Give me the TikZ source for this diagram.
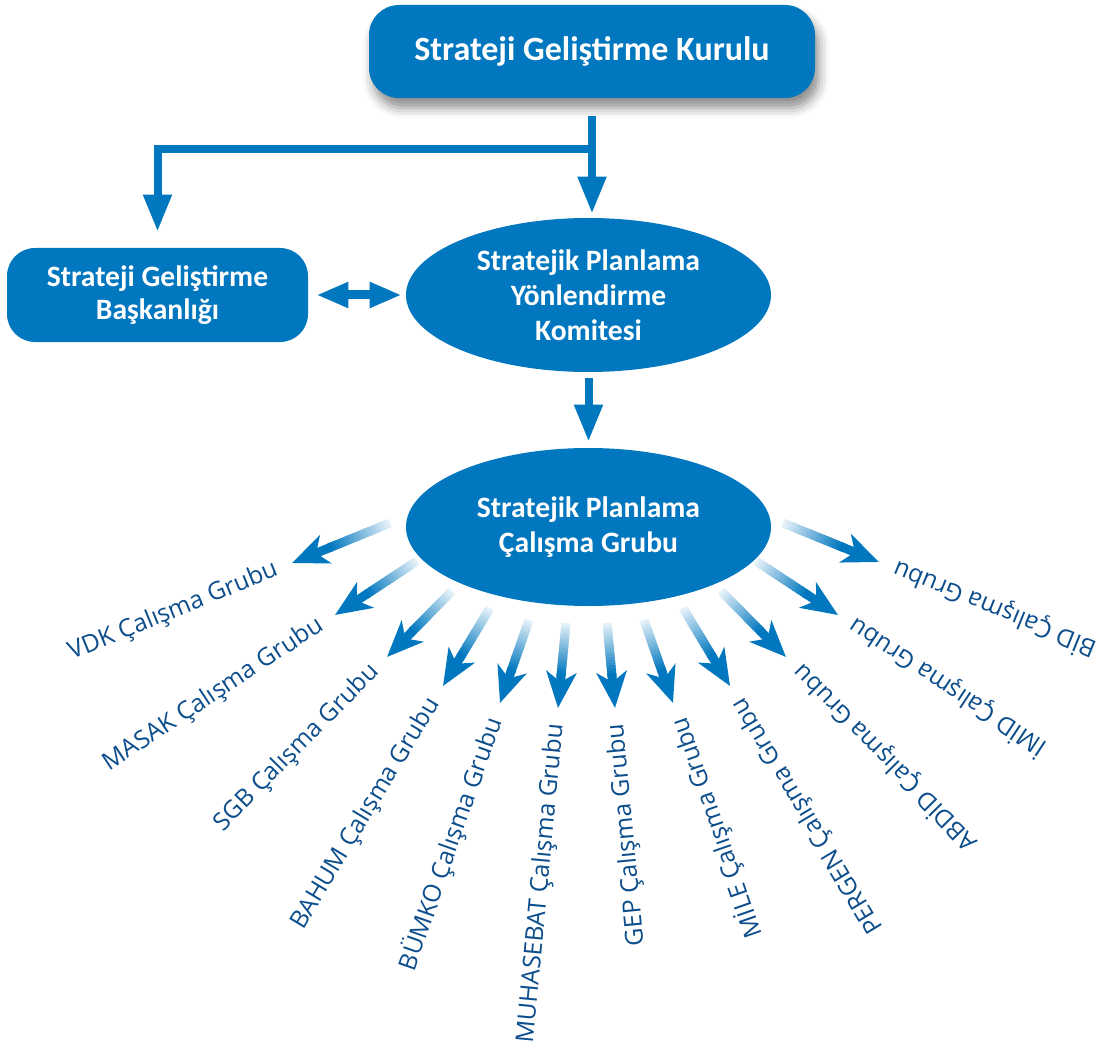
\documentclass[tikz,border=0pt]{standalone}
\usepackage{fontspec}
\setmainfont{Open Sans}
\newfontfamily\boxfont{Carlito}
\usetikzlibrary{arrows.meta,calc,shapes.geometric,shadows.blur}

\definecolor{kurumblue}{RGB}{0,119,190}
\definecolor{labelblue}{RGB}{12,77,140}

\begin{document}
\begin{tikzpicture}[x=0.5pt, y=-0.5pt,
    box/.style={fill=kurumblue, text=white, rounded corners=14pt, inner sep=0pt, align=center,
                font=\boxfont\bfseries\fontsize{14.8}{16.5}\selectfont},
    oval/.style={ellipse, fill=kurumblue, text=white, inner sep=0pt, align=center,
                 font=\boxfont\bfseries\fontsize{14.8}{17.5}\selectfont},
    conn/.style={kurumblue, line width=4pt, -{Triangle[length=18.5pt, width=13.5pt]}},
    fanshaft/.style={line width=4.5pt},
    grp/.style={text=labelblue, inner sep=0pt, font=\fontsize{12.3}{15}\selectfont}]
    \useasboundingbox (0,0) rectangle (1103,1064);

    \node[box, rounded corners=15pt, minimum width=223pt, minimum height=46.5pt,
          font=\boxfont\bfseries\fontsize{17}{20}\selectfont,
          blur shadow={shadow xshift=2pt, shadow yshift=-5pt, shadow blur radius=5pt, shadow opacity=45}]
          (kurul) at (592,51.5) {Strateji Geliştirme Kurulu};

    \node[box, minimum width=150.5pt, minimum height=47pt] (sgbas) at (157.5,295)
          {Strateji Geliştirme\\Başkanlığı};

    \node[oval, minimum width=182.5pt, minimum height=77pt] (spyk) at (588.5,295)
          {Stratejik Planlama\\Yönlendirme\\Komitesi};
    \node[oval, minimum width=182.5pt, minimum height=79pt] (spcg) at (588.5,527)
          {Stratejik Planlama\\Çalışma Grubu};

    \coordinate (split) at (kurul.south |- 0,149);

    \draw[conn, shorten <=9pt, shorten >=2pt] (kurul.south) -- (kurul.south |- spyk.north);
    \draw[conn, shorten >=8pt] (split) -| (sgbas.north);
    \draw[kurumblue, line width=4.5pt,
          {Triangle[length=16pt, width=12pt]}-{Triangle[length=16pt, width=12pt]},
          shorten <=4pt, shorten >=2pt] (sgbas.east) -- (spyk.west);
    \draw[conn, shorten <=3pt, shorten >=3pt] (spyk.south) -- (spcg.north);

    % working groups
    \foreach \sx/\sy/\tx/\ty/\grp [count=\i] in {
        390/523/292/563/VDK, 417/561/335/615/MASAK, 452/591/387/657/SGB,
        490/608/443/686/BAHUM, 529/620/500/703/BÜMKO, 566/623/558/708/MUHASEBAT,
        607/623/615/708/GEP, 644/620/673/703/MİLE, 683/608/730/686/PERGEN,
        721/591/786/657/ABDİD, 756/561/838/615/İMİD, 783/523/879/562/BİD}{
      \coordinate (s\i) at (\sx,\sy);
      \coordinate (t\i) at (\tx,\ty);
      \foreach \k [evaluate=\k as \pct using int(10+4.5*\k)] in {0,...,20}
        \draw[fanshaft, kurumblue!\pct!white] ($(s\i)!{\k/34}!(t\i)$) -- ($(s\i)!{(\k+1.6)/34}!(t\i)$);
      \draw[fanshaft, kurumblue, -{Stealth[length=18pt, width=15pt, inset=5pt]}]
          ($(s\i)!0.6!(t\i)$) -- (t\i);
      \path let \p1=($(s\i)-(t\i)$) in
          node[grp, anchor=east, rotate={atan2(\y1,\x1)}] (g\i) at ($(t\i)!-8pt!(s\i)$)
          {\grp\ Çalışma Grubu};
    }
\end{tikzpicture}
\end{document}
